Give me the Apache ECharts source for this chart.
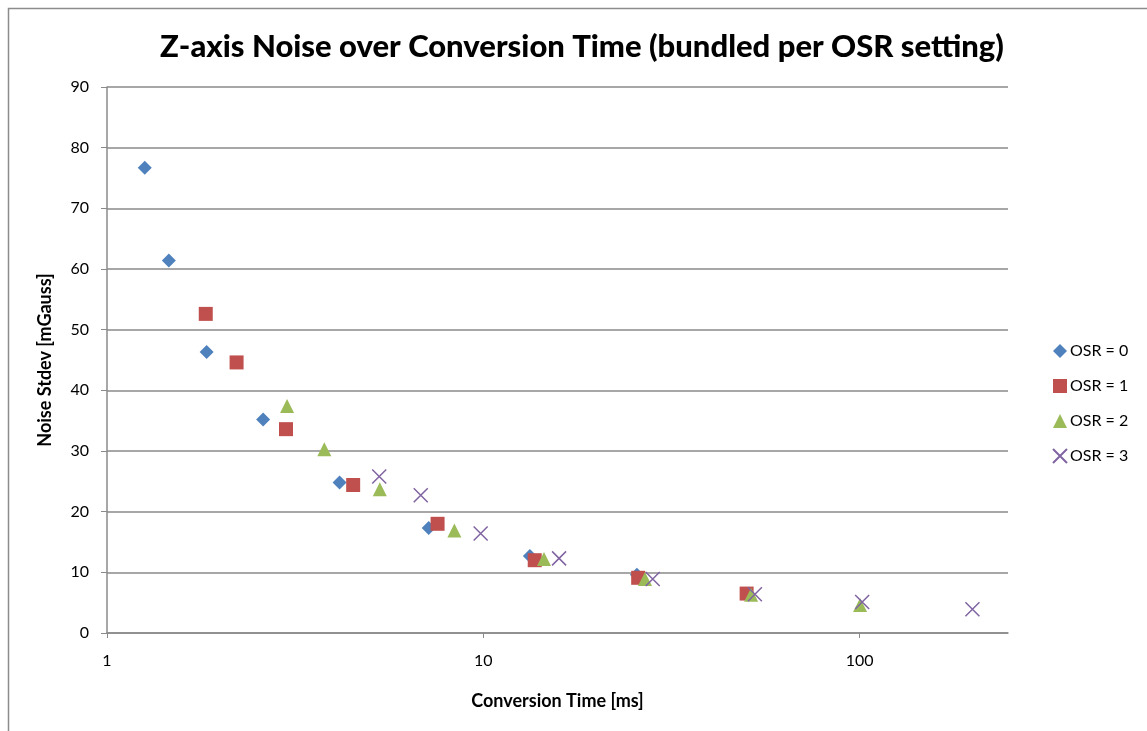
<!DOCTYPE html>
<html>
<head>
<meta charset="utf-8">
<script src="https://cdn.jsdelivr.net/npm/echarts@6/dist/echarts.min.js"></script>
<style>
html,body{margin:0;padding:0;background:#fff;}
#chart{width:1147px;height:731px;}
</style>
</head>
<body>
<div id="chart"></div>
<script>
// Conversion time [ms] and noise stdev [mGauss] per OSR setting
var osr0Time  = [1.26, 1.46, 1.84, 2.60, 4.15, 7.16, 13.3, 25.6];
var osr0Noise = [76.7, 61.4, 46.3, 35.2, 24.8, 17.3, 12.7, 9.6];
var osr1Time  = [1.83, 2.21, 2.99, 4.51, 7.56, 13.7, 25.8, 50.1];
var osr1Noise = [52.6, 44.6, 33.6, 24.4, 18.0, 12.0, 9.1, 6.5];
var osr2Time  = [3.01, 3.78, 5.31, 8.38, 14.5, 26.9, 51.5, 100.3];
var osr2Noise = [37.4, 30.3, 23.7, 16.9, 12.2, 8.9, 6.3, 4.6];
var osr3Time  = [5.29, 6.82, 9.84, 15.9, 28.2, 52.7, 101.6, 199.5];
var osr3Noise = [25.8, 22.7, 16.4, 12.3, 8.9, 6.4, 5.1, 3.9];

var seriesNames = ['OSR = 0', 'OSR = 1', 'OSR = 2', 'OSR = 3'];
var xTickValues = [1, 10, 100];

var titleText = 'Z-axis Noise over Conversion Time (bundled per OSR setting)';
var xAxisTitle = 'Conversion Time [ms]';
var yAxisTitle = 'Noise Stdev [mGauss]';

function pairs(xs, ys) {
  var out = [];
  for (var i = 0; i < xs.length; i++) out.push([xs[i], ys[i]]);
  return out;
}

var FONT = 'Lato, "Open Sans", "Liberation Sans", sans-serif';
var GRID = '#8a8a8a';

var chart = echarts.init(document.getElementById('chart'));
chart.setOption({
  backgroundColor: '#ffffff',
  animation: false,
  textStyle: { fontFamily: FONT },
  graphic: [{
    type: 'rect',
    shape: { x: 8.5, y: 8.5, width: 1300, height: 900 },
    style: { fill: 'none', stroke: '#8c8c8c', lineWidth: 1.5 },
    silent: true, z: -1
  }],
  title: {
    text: titleText,
    left: 577, top: 26, textAlign: 'center',
    textStyle: { fontFamily: FONT, fontWeight: 900, fontSize: 31, color: '#000' }
  },
  legend: {
    orient: 'vertical',
    left: 1047, top: 338,
    itemWidth: 14, itemHeight: 14, itemGap: 19,
    textStyle: { fontFamily: FONT, fontSize: 16, color: '#000', padding: [0,0,0,-2] },
    data: seriesNames
  },
  grid: { left: 107, top: 87, right: 139, bottom: 98, containLabel: false },
  xAxis: {
    type: 'log', logBase: 10, min: 1, max: 248,
    name: xAxisTitle, nameLocation: 'middle', nameGap: 59,
    nameTextStyle: { fontFamily: FONT, fontWeight: 'bold', fontSize: 18, color: '#000' },
    axisLine: { show: true, onZero: false, lineStyle: { color: GRID, width: 1.5 } },
    axisTick: { show: true, inside: false, length: 5, customValues: xTickValues, lineStyle: { color: GRID } },
    minorTick: { show: false },
    splitLine: { show: false },
    axisLabel: { customValues: xTickValues, margin: 20, fontFamily: FONT, fontSize: 16, color: '#000',
      formatter: function (v) { return String(Math.round(v)); } }
  },
  yAxis: {
    type: 'value', min: 0, max: 90, interval: 10,
    name: yAxisTitle, nameLocation: 'middle', nameGap: 53, nameRotate: 90,
    nameTextStyle: { fontFamily: FONT, fontWeight: 'bold', fontSize: 18, color: '#000' },
    axisLine: { show: true, lineStyle: { color: GRID, width: 1.5 } },
    axisTick: { show: true, inside: false, length: 6, lineStyle: { color: GRID } },
    splitLine: { show: true, lineStyle: { color: GRID, width: 1.5 } },
    axisLabel: { margin: 18, fontFamily: FONT, fontSize: 16, color: '#000' }
  },
  series: [
    { name: seriesNames[0], type: 'scatter', symbol: 'diamond', symbolSize: 14,
      itemStyle: { color: '#4F81BD', opacity: 1 }, data: pairs(osr0Time, osr0Noise) },
    { name: seriesNames[1], type: 'scatter', symbol: 'rect', symbolSize: 14,
      itemStyle: { color: '#C0504D', opacity: 1 }, data: pairs(osr1Time, osr1Noise) },
    { name: seriesNames[2], type: 'scatter', symbol: 'triangle', symbolSize: 14,
      itemStyle: { color: '#9BBB59', opacity: 1 }, data: pairs(osr2Time, osr2Noise) },
    { name: seriesNames[3], type: 'scatter', symbol: 'path://M0,0L10,10M10,0L0,10', symbolSize: 14,
      itemStyle: { color: '#8064A2', borderColor: '#8064A2', borderWidth: 1.5, opacity: 1 },
      data: pairs(osr3Time, osr3Noise) }
  ]
});
</script>
</body>
</html>
